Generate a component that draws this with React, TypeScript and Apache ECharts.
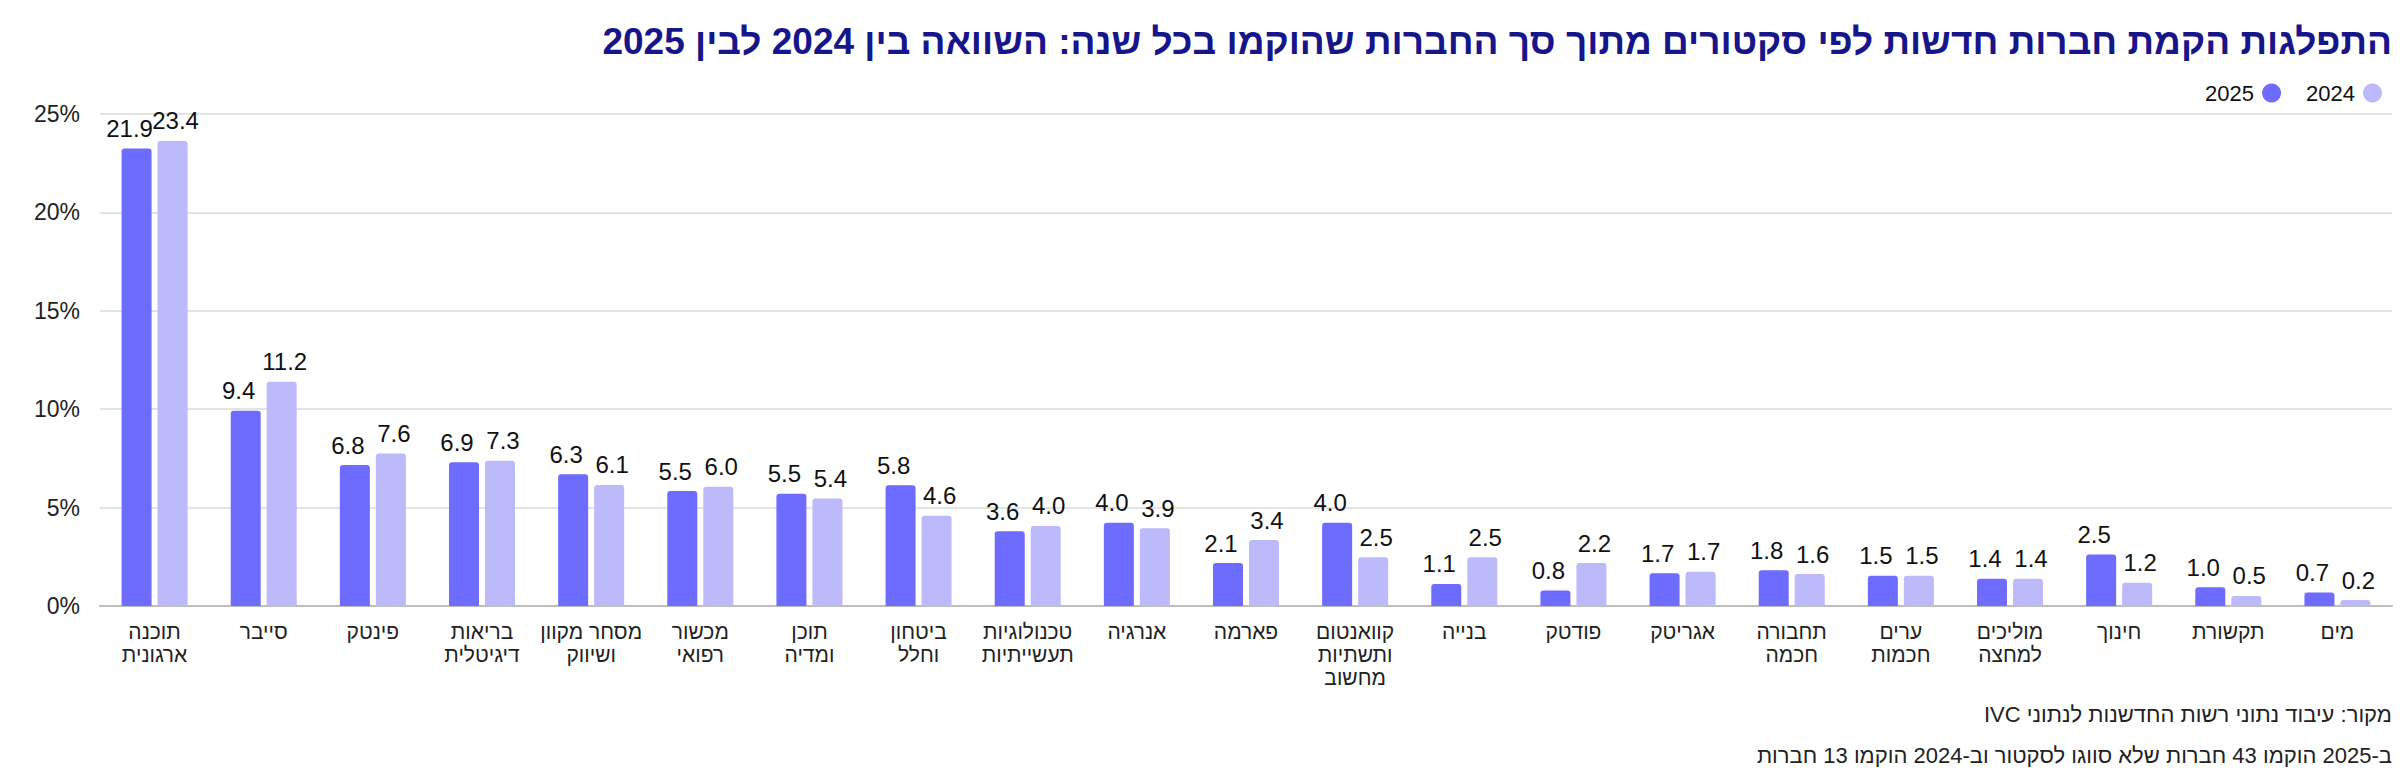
import React, { useEffect, useRef } from "react";
import * as echarts from "echarts";

const categories = [
  "תוכנה\nארגונית",
  "סייבר",
  "פינטק",
  "בריאות\nדיגיטלית",
  "מסחר מקוון\nושיווק",
  "מכשור\nרפואי",
  "תוכן\nומדיה",
  "ביטחון\nוחלל",
  "טכנולוגיות\nתעשייתיות",
  "אנרגיה",
  "פארמה",
  "קוואנטום\nותשתיות\nמחשוב",
  "בנייה",
  "פודטק",
  "אגריטק",
  "תחבורה\nחכמה",
  "ערים\nחכמות",
  "מוליכים\nלמחצה",
  "חינוך",
  "תקשורת",
  "מים",
];

// bar heights as drawn in the reference (%)
const bars2025 = [23.25, 9.92, 7.16, 7.3, 6.69, 5.84, 5.71, 6.13, 3.8, 4.23, 2.18, 4.23, 1.12, 0.79, 1.67, 1.82, 1.54, 1.38, 2.62, 0.95, 0.68];
const bars2024 = [23.63, 11.39, 7.75, 7.38, 6.15, 6.06, 5.46, 4.58, 4.07, 3.95, 3.35, 2.48, 2.48, 2.18, 1.74, 1.62, 1.54, 1.38, 1.18, 0.51, 0.3];

// value labels printed above the bars
const labels2025 = ["21.9", "9.4", "6.8", "6.9", "6.3", "5.5", "5.5", "5.8", "3.6", "4.0", "2.1", "4.0", "1.1", "0.8", "1.7", "1.8", "1.5", "1.4", "2.5", "1.0", "0.7"];
const labels2024 = ["23.4", "11.2", "7.6", "7.3", "6.1", "6.0", "5.4", "4.6", "4.0", "3.9", "3.4", "2.5", "2.5", "2.2", "1.7", "1.6", "1.5", "1.4", "1.2", "0.5", "0.2"];

const yTicks = { min: 0, max: 25, interval: 5 };

const TITLE = "התפלגות הקמת חברות חדשות לפי סקטורים מתוך סך החברות שהוקמו בכל שנה: השוואה בין 2024 לבין 2025";
const SOURCE = "\u202Bמקור: עיבוד נתוני רשות החדשנות לנתוני IVC\u202C";
const NOTE = "\u202Bב-2025 הוקמו 43 חברות שלא סווגו לסקטור וב-2024 הוקמו 13 חברות\u202C";

const DARK = "#6E6BFF";
const LIGHT = "#BCBAFA";
const FONT = "'Liberation Sans', 'DejaVu Sans', sans-serif";

export default function App() {
  const ref = useRef<HTMLDivElement>(null);
  useEffect(() => {
    if (!ref.current) return;
    const chart = echarts.init(ref.current, undefined, { renderer: "svg" });
    chart.setOption({
      animation: false,
      textStyle: { fontFamily: FONT },
      legend: {
        data: ["2025", "2024"],
        right: 13,
        top: 77,
        icon: "circle",
        itemWidth: 19,
        itemHeight: 19,
        itemGap: 25,
        align: "right",
        textStyle: { fontSize: 22, color: "#111", fontFamily: FONT, padding: [0, 3, 0, 0] },
      },
      grid: { left: 100, right: 8, top: 114, bottom: 176, containLabel: false },
      xAxis: {
        type: "category",
        data: categories,
        axisTick: { show: false },
        axisLine: { lineStyle: { color: "#bdbdbd", width: 2 } },
        axisLabel: {
          interval: 0,
          fontSize: 21,
          lineHeight: 23,
          color: "#222",
          margin: 14,
          fontFamily: FONT,
        },
      },
      yAxis: {
        type: "value",
        min: yTicks.min,
        max: yTicks.max,
        interval: yTicks.interval,
        axisLabel: { formatter: "{value}%", fontSize: 23, color: "#222", margin: 20, fontFamily: FONT },
        splitLine: { lineStyle: { color: "#e3e3e3", width: 2 } },
        axisLine: { show: false },
        axisTick: { show: false },
      },
      series: [
        {
          name: "2025",
          type: "bar",
          data: bars2025,
          barWidth: 30,
          barGap: "20%",
          itemStyle: { color: DARK, borderRadius: [3, 3, 0, 0] },
          label: {
            show: true,
            position: "top",
            distance: 8,
            offset: [-7, 0],
            fontSize: 24,
            color: "#111",
            fontFamily: FONT,
            formatter: (p: any) => labels2025[p.dataIndex],
          },
        },
        {
          name: "2024",
          type: "bar",
          data: bars2024,
          barWidth: 30,
          barGap: "20%",
          itemStyle: { color: LIGHT, borderRadius: [3, 3, 0, 0] },
          label: {
            show: true,
            position: "top",
            distance: 8,
            offset: [3, 0],
            fontSize: 24,
            color: "#111",
            fontFamily: FONT,
            formatter: (p: any) => labels2024[p.dataIndex],
          },
        },
      ],
      graphic: [
        {
          type: "text",
          x: 2392,
          y: 41,
          style: {
            text: TITLE,
            fontSize: 37,
            fontWeight: "bold",
            fill: "#17158A",
            fontFamily: FONT,
            align: "right",
            verticalAlign: "middle",
          },
        },
        {
          type: "text",
          x: 2392,
          y: 703,
          style: { text: SOURCE, fontSize: 22, fill: "#222", fontFamily: FONT, align: "right", verticalAlign: "top" },
        },
        {
          type: "text",
          x: 2392,
          y: 744,
          style: { text: NOTE, fontSize: 22, fill: "#222", fontFamily: FONT, align: "right", verticalAlign: "top" },
        },
      ],
    });
    return () => chart.dispose();
  }, []);
  return (
    <div
      ref={ref}
      style={{ position: "fixed", left: 0, top: 0, width: 2400, height: 782, background: "#fff" }}
    />
  );
}
